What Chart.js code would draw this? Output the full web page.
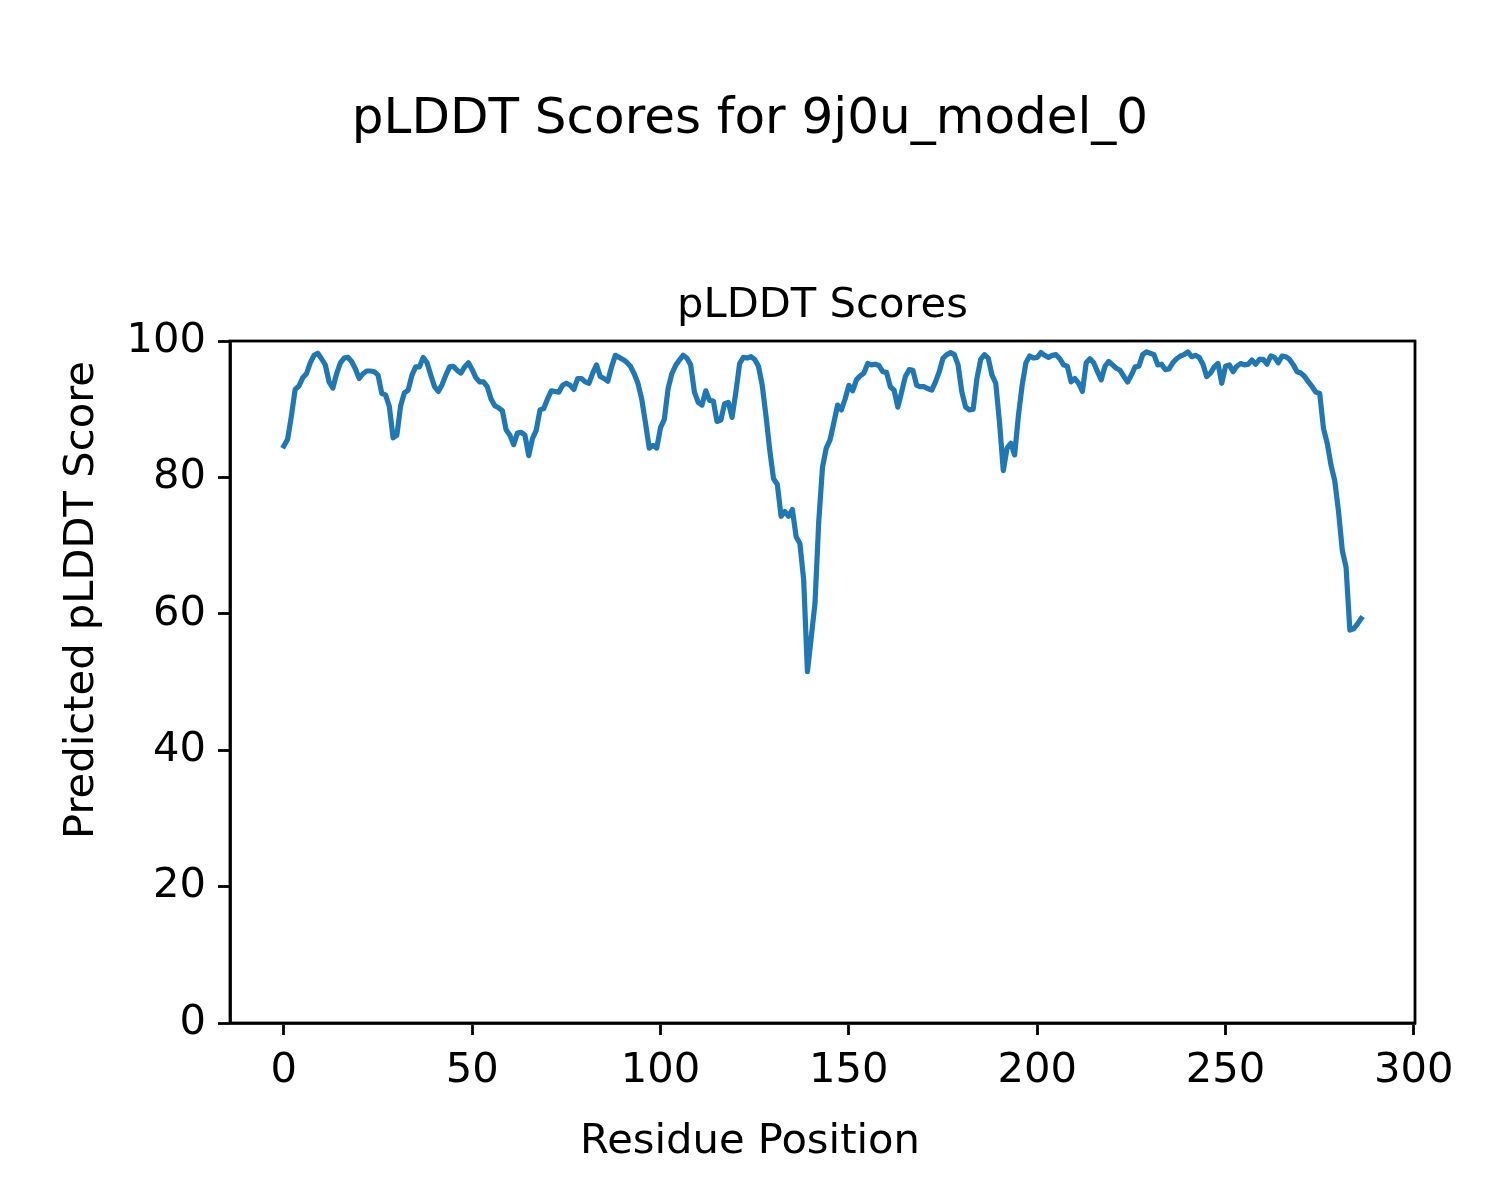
<!DOCTYPE html>
<html>
<head>
<meta charset="utf-8">
<script src="https://cdn.jsdelivr.net/npm/chart.js@4/dist/chart.umd.min.js"></script>
<style>
  html, body { margin: 0; padding: 0; background: #ffffff; }
  #wrap { width: 1500px; height: 1200px; }
</style>
</head>
<body>
<div id="wrap"><canvas id="c" width="1500" height="1200"></canvas></div>
<script>
// ---- chart text ----
const mainTitle = 'pLDDT Scores for 9j0u_model_0';
const axesTitle = 'pLDDT Scores';
const xLabel = 'Residue Position';
const yLabel = 'Predicted pLDDT Score';

// ---- ticks ----
const xTicks = [0, 50, 100, 150, 200, 250, 300];
const yTicks = [0, 20, 40, 60, 80, 100];

// ---- series: pLDDT score per residue ----
const scores = [
  84.6, 85.6, 89.0, 92.9, 93.4, 94.6, 95.2, 96.8, 97.9, 98.2,
  97.4, 96.5, 94.0, 93.1, 95.2, 96.8, 97.5, 97.6, 97.0, 95.9,
  94.5, 95.2, 95.6, 95.6, 95.5, 95.0, 92.3, 92.1, 90.4, 85.8,
  86.2, 90.5, 92.4, 92.8, 95.0, 96.2, 96.2, 97.6, 96.8, 95.0,
  93.3, 92.6, 93.6, 95.0, 96.2, 96.3, 95.7, 95.3, 96.2, 96.8,
  95.8, 94.6, 94.0, 94.0, 93.3, 91.5, 90.5, 90.2, 89.8, 87.0,
  86.2, 84.8, 86.5, 86.6, 86.2, 83.2, 85.7, 86.9, 89.9, 90.1,
  91.5, 92.7, 92.6, 92.5, 93.5, 93.8, 93.5, 92.9, 94.5, 94.5,
  94.0, 93.8, 95.3, 96.5, 94.8, 94.5, 94.1, 96.2, 97.9, 97.6,
  97.3, 96.9, 96.3, 95.2, 93.8, 91.5, 88.0, 84.3, 84.7, 84.3,
  87.3, 88.5, 93.0, 95.2, 96.4, 97.2, 97.9, 97.5, 96.5, 92.5,
  91.0, 90.6, 92.7, 91.3, 91.2, 88.2, 88.4, 90.8, 91.0, 88.8,
  92.5, 96.7, 97.6, 97.5, 97.7, 97.3, 96.3, 93.5, 89.0, 84.0,
  79.8, 79.0, 74.3, 75.0, 74.3, 75.3, 71.3, 70.3, 65.0, 51.5,
  56.5, 61.5, 73.5, 81.5, 84.3, 85.5, 88.0, 90.6, 89.9, 91.5,
  93.5, 92.7, 94.3, 94.9, 95.3, 96.7, 96.5, 96.6, 96.4, 95.5,
  95.4, 93.3, 92.8, 90.3, 92.5, 94.8, 95.8, 95.7, 93.5, 93.3,
  93.3, 93.0, 92.8, 94.0, 95.5, 97.5, 98.0, 98.3, 98.0, 96.5,
  92.5, 90.3, 89.9, 90.0, 94.5, 97.3, 98.0, 97.5, 95.0, 93.8,
  88.0, 81.0, 84.3, 85.0, 83.3, 89.0, 93.5, 96.8, 97.8, 97.5,
  97.6, 98.3, 97.9, 97.6, 97.9, 98.0, 97.4, 96.5, 96.3, 94.0,
  94.5, 93.8, 92.6, 96.8, 97.4, 96.8, 95.5, 94.3, 96.3, 97.0,
  96.5, 96.0, 95.7, 94.8, 94.0, 95.0, 96.2, 96.3, 98.0, 98.4,
  98.2, 98.0, 96.5, 96.6, 95.8, 95.9, 96.8, 97.4, 97.8, 98.0,
  98.4, 97.7, 97.9, 97.6, 96.6, 94.8, 95.3, 96.2, 96.7, 93.8,
  96.3, 96.5, 95.5, 96.3, 96.7, 96.5, 96.6, 97.2, 96.6, 97.3,
  97.3, 96.6, 97.8, 97.6, 96.8, 97.8, 97.7, 97.3, 96.5, 95.5,
  95.3, 94.8, 94.0, 93.3, 92.5, 92.3, 87.2, 85.0, 81.8, 79.5,
  75.0, 69.3, 66.8, 57.6, 57.8, 58.5, 59.3
];
// residue positions (0-based index of each score)
const positions = scores.map((_, i) => i);

const FONT = 'DejaVu Sans';
const points = positions.map((p, i) => ({ x: p, y: scores[i] }));

const frameAndLabels = {
  id: 'frameAndLabels',
  afterDraw(chart) {
    const { ctx, chartArea } = chart;
    ctx.save();
    ctx.strokeStyle = '#000';
    ctx.lineWidth = 2.8;
    ctx.strokeRect(chartArea.left, chartArea.top,
                   chartArea.right - chartArea.left, chartArea.bottom - chartArea.top);
    ctx.fillStyle = '#000';
    ctx.font = '41.67px "' + FONT + '"';
    ctx.textAlign = 'center';
    ctx.textBaseline = 'alphabetic';
    ctx.fillText(xLabel, chart.width / 2, 1153);
    ctx.translate(92.5, chart.height / 2);
    ctx.rotate(-Math.PI / 2);
    ctx.fillText(yLabel, 0, 0);
    ctx.restore();
  }
};

new Chart(document.getElementById('c'), {
  type: 'line',
  data: {
    datasets: [{
      data: points,
      borderColor: '#1f77b4',
      borderWidth: 5.2,
      pointRadius: 0,
      tension: 0,
      fill: false,
      borderJoinStyle: 'round',
      borderCapStyle: 'square'
    }]
  },
  options: {
    responsive: false,
    devicePixelRatio: 1,
    animation: false,
    layout: { padding: { left: 85, right: 85, top: 0, bottom: 77 } },
    plugins: {
      legend: { display: false },
      tooltip: { enabled: false },
      title: {
        display: true,
        text: mainTitle,
        color: '#000',
        font: { family: FONT, size: 50, weight: 'normal', lineHeight: 1.2 },
        padding: { top: 90, bottom: 0 }
      },
      subtitle: {
        display: true,
        text: axesTitle,
        fullSize: false,
        color: '#000',
        font: { family: FONT, size: 41.67, weight: 'normal', lineHeight: 1.2 },
        padding: { top: 131.6, bottom: 9.4 }
      }
    },
    scales: {
      x: {
        type: 'linear',
        min: -14.3,
        max: 300.3,
        afterFit(scale) { scale.height = 100; },
        afterBuildTicks(scale) { scale.ticks = xTicks.map(v => ({ value: v })); },
        ticks: {
          color: '#000',
          font: { family: FONT, size: 41.67 },
          padding: 11.5,
          maxRotation: 0,
          autoSkip: false,
          includeBounds: false
        },
        grid: {
          display: true,
          drawOnChartArea: false,
          drawTicks: true,
          tickLength: 12,
          tickColor: '#000',
          tickWidth: 2.8
        },
        border: { display: true, color: '#000', width: 2.8 }
      },
      y: {
        min: 0,
        max: 100,
        afterFit(scale) { scale.width = 145; },
        afterBuildTicks(scale) { scale.ticks = yTicks.map(v => ({ value: v })); },
        ticks: {
          color: '#000',
          font: { family: FONT, size: 41.67 },
          padding: 12,
          autoSkip: false
        },
        grid: {
          display: true,
          drawOnChartArea: false,
          drawTicks: true,
          tickLength: 12,
          tickColor: '#000',
          tickWidth: 2.8
        },
        border: { display: true, color: '#000', width: 2.8 }
      }
    }
  },
  plugins: [frameAndLabels]
});
</script>
</body>
</html>
